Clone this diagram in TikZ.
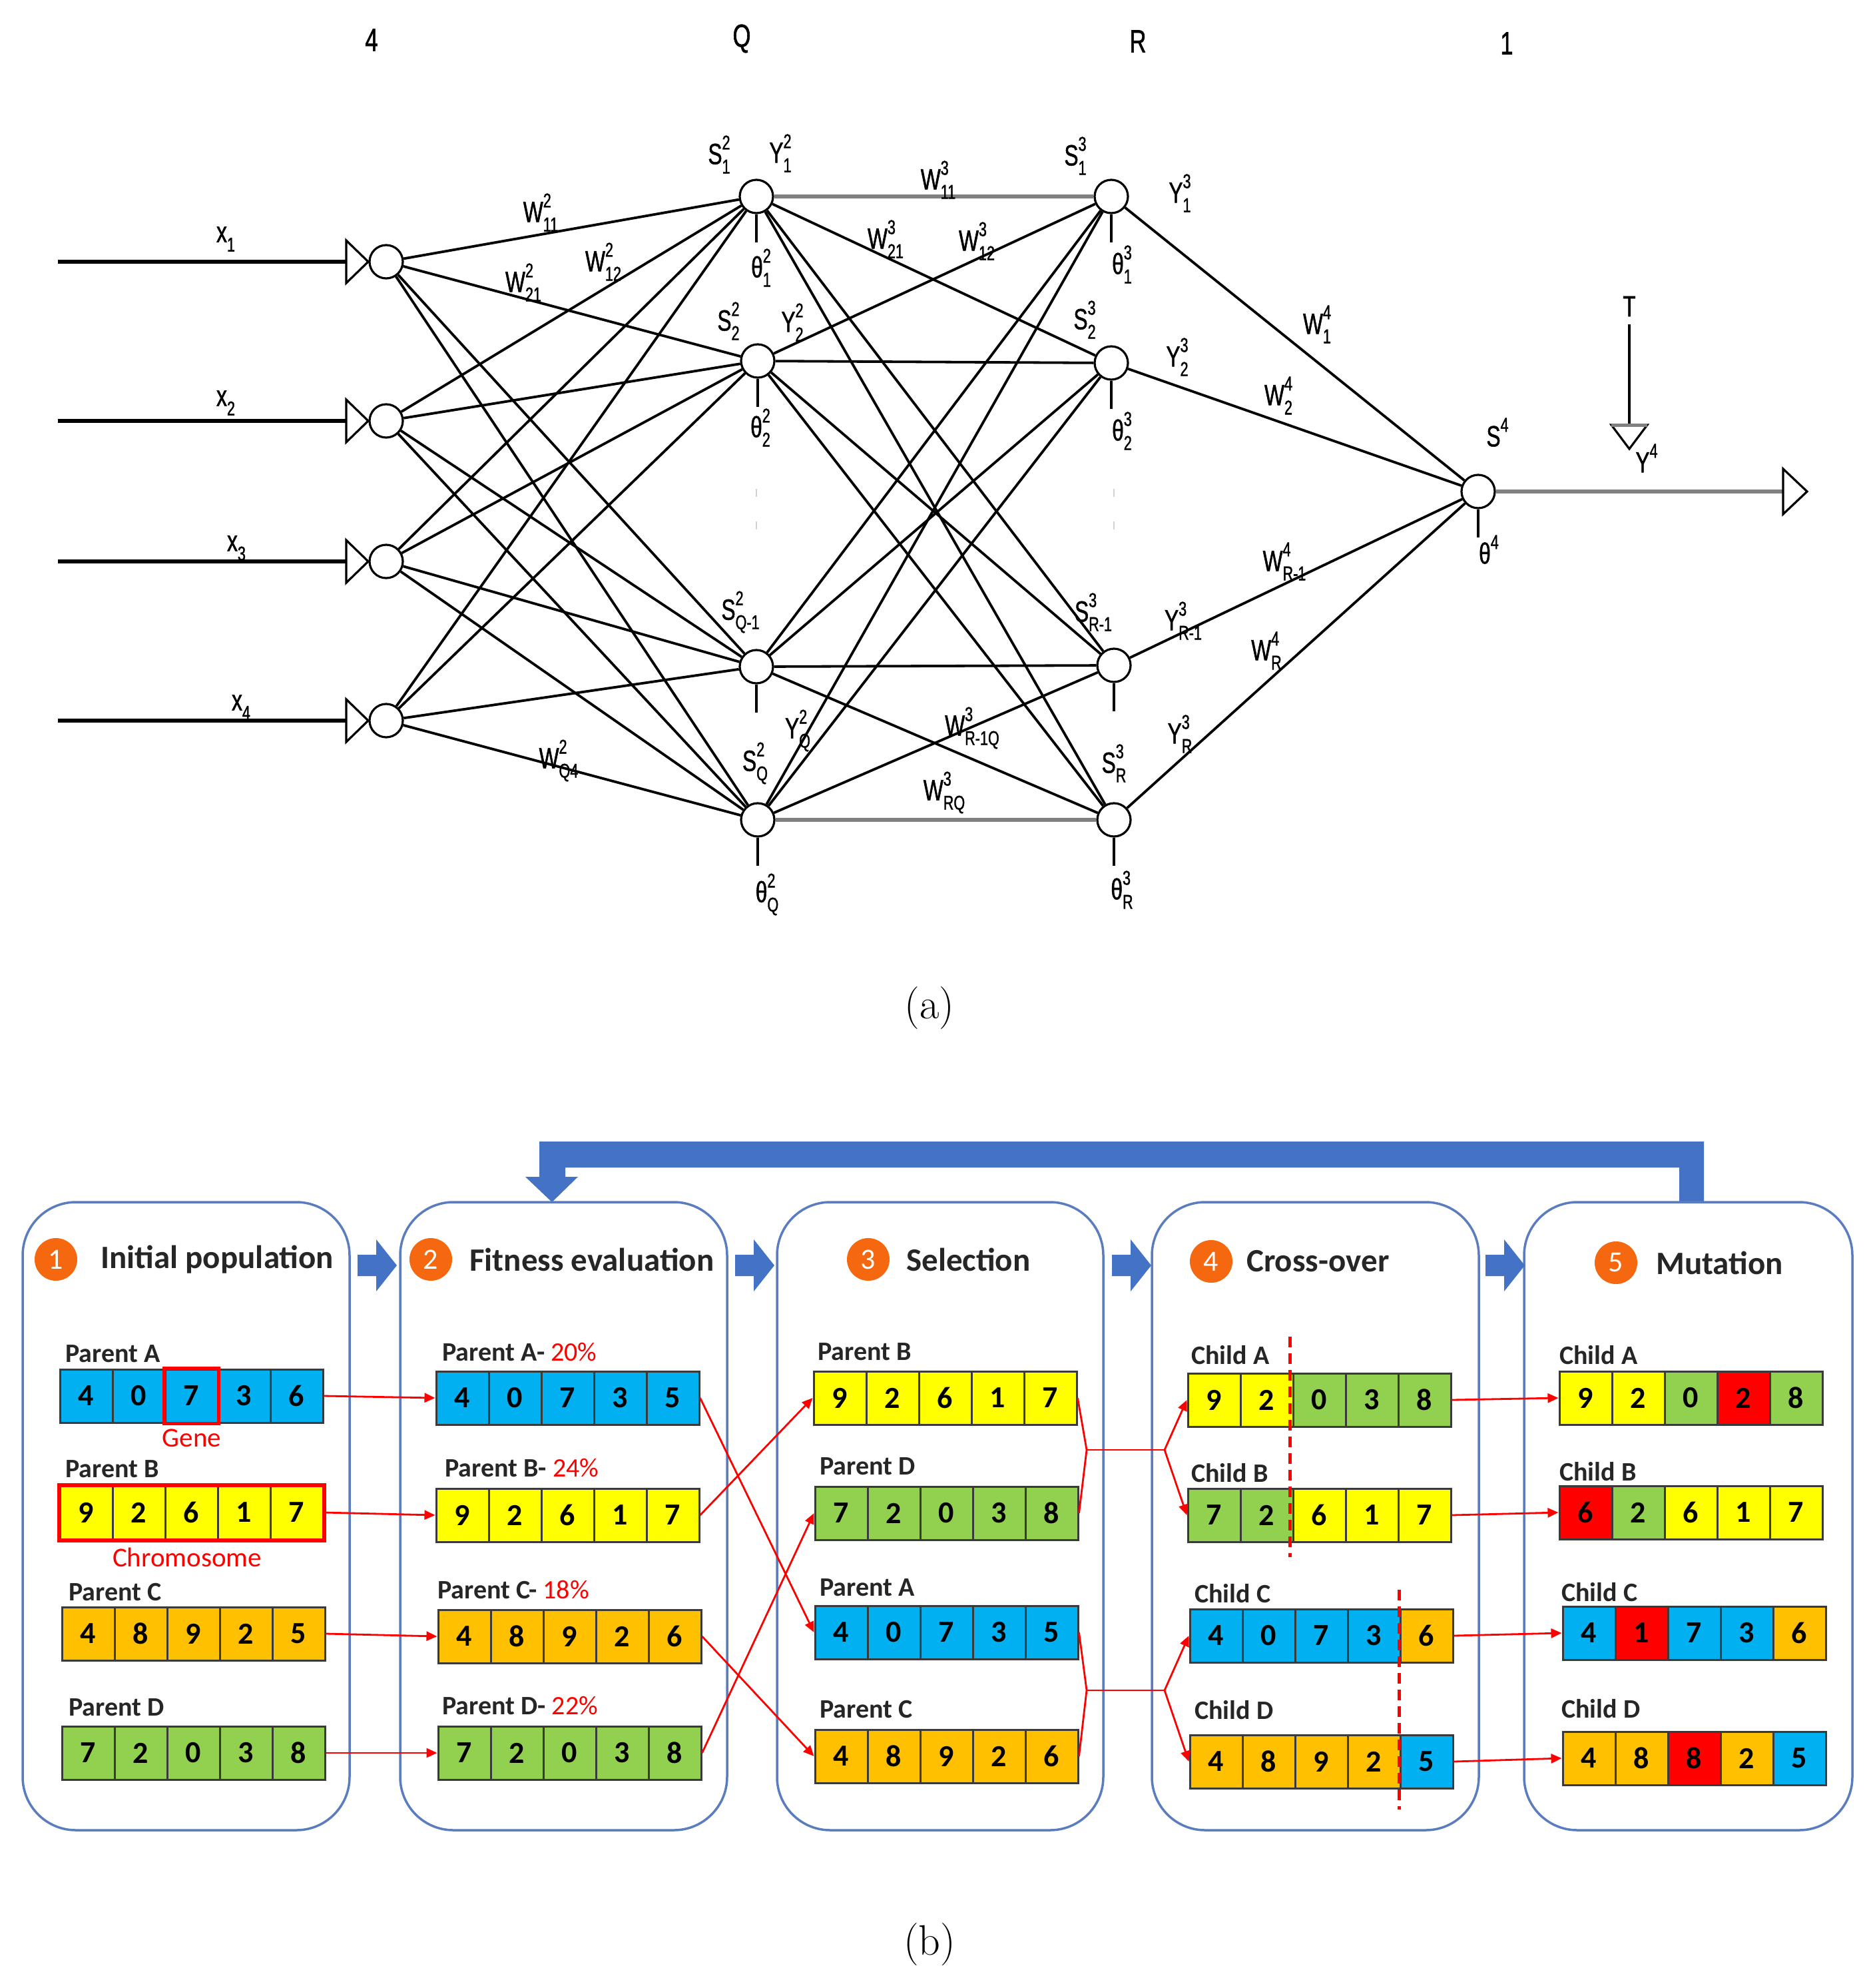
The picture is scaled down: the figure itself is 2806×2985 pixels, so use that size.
\documentclass[tikz,border=0pt]{standalone}
\usepackage{fontspec}
\newfontfamily\nnfont[FakeStretch=0.72,FakeBold=1.2]{Liberation Sans}
\newfontfamily\gafont{Carlito}
\usetikzlibrary{arrows.meta}
\definecolor{cB}{HTML}{00B0F0}
\definecolor{cY}{HTML}{FFFF00}
\definecolor{cO}{HTML}{FFC000}
\definecolor{cG}{HTML}{92D050}
\definecolor{cR}{HTML}{FF0000}
\definecolor{cellline}{HTML}{3A3A3A}
\definecolor{boxblue}{HTML}{5B7DC0}
\definecolor{arrblue}{HTML}{4472C4}
\definecolor{numorg}{HTML}{F5680F}
\definecolor{txtdark}{HTML}{262626}
\newcommand\sx[3]{#1\raisebox{0.5em}{\makebox[0pt][l]{\fontsize{30pt}{30pt}\selectfont #2}}\raisebox{-0.32em}{\fontsize{30pt}{30pt}\selectfont #3}}
\newcommand\chrom[4]{\foreach \c/\d [count=\i] in {#4}{\node[cell, fill=c\c] (#1-\i) at ({#2+(\i-0.5)*79}, #3) {\d};}}
\newcommand\blockarr[1]{\fill[arrblue] (#1,1884) -- ++(28,0) -- ++(0,-23) -- ++(31,39) -- ++(-31,39) -- ++(0,-23) -- ++(-28,0) -- cycle;}
\tikzset{
  neuron/.style={circle, draw, line width=3.2pt, minimum size=50pt, inner sep=0pt, fill=white},
  conn/.style={line width=3.8pt},
  hconn/.style={line width=5.5pt, draw=gray},
  nnlab/.style={font=\nnfont\fontsize{44pt}{46pt}\selectfont, inner sep=0pt},
  collab/.style={font=\nnfont\fontsize{48pt}{50pt}\selectfont, inner sep=0pt},
  cell/.style={draw=cellline, line width=3pt, minimum width=79pt, minimum height=80pt, inner sep=0pt, text=black, font=\gafont\bfseries\fontsize{46pt}{46pt}\selectfont},
  gabox/.style={draw=boxblue, line width=3.5pt, rounded corners=80pt},
  redarrow/.style={draw=red, line width=2.8pt, -{Triangle[length=16pt,width=14pt]}},
  redline/.style={draw=red, line width=2.8pt},
  numcirc/.style={circle, fill=numorg, minimum size=64pt, inner sep=0pt, text=white, font=\gafont\fontsize{44pt}{44pt}\selectfont},
  gtitle/.style={anchor=west, inner sep=0pt, text=txtdark, font=\gafont\bfseries\fontsize{49pt}{50pt}\selectfont},
  plab/.style={anchor=west, inner sep=0pt, text=txtdark, font=\gafont\bfseries\fontsize{40pt}{42pt}\selectfont},
  rlab/.style={inner sep=0pt, text=red, font=\gafont\fontsize{41pt}{42pt}\selectfont},
  cutline/.style={draw=red, line width=5pt, dash pattern=on 16pt off 9pt},
  caplab/.style={inner sep=0pt, font=\fontsize{64pt}{66pt}\selectfont}
}
\begin{document}
\begin{tikzpicture}[x=1pt,y=-1pt]
\useasboundingbox[fill=white] (0,0) rectangle (2806,2985);

% ================= (a) network =================
\node[collab] (c4) at (558,60) {4};
\node[collab] (cQ) at (1114,58) {Q};
\node[collab] (cR) at (1709,62) {R};
\node[collab] (c1) at (2263,65) {1};

\node[neuron] (i1) at (580,393) {};
\node[neuron] (i2) at (580,632) {};
\node[neuron] (i3) at (580,843) {};
\node[neuron] (i4) at (580,1082) {};
\node[neuron] (q1) at (1136,295) {};
\node[neuron] (q2) at (1138,542) {};
\node[neuron] (q3) at (1136,1001) {};
\node[neuron] (q4) at (1138,1231) {};
\node[neuron] (r1) at (1669,295) {};
\node[neuron] (r2) at (1669,545) {};
\node[neuron] (r3) at (1673,999) {};
\node[neuron] (r4) at (1673,1231) {};
\node[neuron] (o) at (2220,738) {};

% input lines and triangles
\foreach \k/\y in {1/393,2/632,3/843,4/1082}{
  \coordinate (s\k) at (87,\y);
  \coordinate (t\k) at (553,\y);
  \draw[line width=5.5pt] (s\k) -- (t\k);
  \draw[line width=3.2pt, fill=white] (520,\y-32) -- (t\k) -- (520,\y+32) -- cycle;
}
\node[nnlab] (lx1) at (339,359) {\sx{x}{}{1}};
\node[nnlab] (lx2) at (339,605) {\sx{x}{}{2}};
\node[nnlab] (lx3) at (355,823) {\sx{x}{}{3}};
\node[nnlab] (lx4) at (362,1062) {\sx{x}{}{4}};

% connections
\foreach \a in {1,...,4}{\foreach \b in {1,...,4}{\draw[conn] (i\a) -- (q\b);}}
\foreach \a/\b in {1/2,1/3,1/4,2/1,2/2,2/3,2/4,3/1,3/2,3/3,3/4,4/1,4/2,4/3}{\draw[conn] (q\a) -- (r\b);}
\draw[hconn] (q1) -- (r1);
\draw[hconn] (q4) -- (r4);
\foreach \a in {1,...,4}{\draw[conn] (r\a) -- (o);}

% bias lines
\foreach \n in {q1,q2,q3,q4,r1,r2,r3,r4,o}{\draw[line width=3.2pt] (\n.south) -- ++(0,42);}

% faint dots
\foreach \xx in {1136,1673}{\draw[gray!35, line width=2.5pt] (\xx,734) -- (\xx,746) (\xx,783) -- (\xx,795);}

% output
\coordinate (otip) at (2714,738);
\draw[line width=6.5pt, draw=gray] (o) -- (otip);
\draw[line width=3.2pt, fill=white] (2678,704) -- (otip) -- (2678,772) -- cycle;
\node[nnlab] (T) at (2447,460) {T};
\coordinate (ttip) at (2447,674);
\draw[line width=3.2pt, shorten <=12pt] (T) -- (ttip);
\draw[line width=3.2pt, fill=white] (2420,638) -- (2474,638) -- (ttip) -- cycle;
\draw[line width=5pt, gray] (2420,638) -- (2474,638);
\node[nnlab] (Y4) at (2467,695) {\sx{Y}{4}{}};

% node labels
\node[nnlab] (S21) at (1080,232) {\sx{S}{2}{1}};
\node[nnlab] (Y21) at (1172,230) {\sx{Y}{2}{1}};
\node[nnlab] (S22) at (1094,482) {\sx{S}{2}{2}};
\node[nnlab] (Y22) at (1190,484) {\sx{Y}{2}{2}};
\node[nnlab] (S2Q1) at (1112,919) {\sx{S}{2}{Q-1}};
\node[nnlab] (S2Q) at (1134,1146) {\sx{S}{2}{Q}};
\node[nnlab] (Y2Q) at (1198,1097) {\sx{Y}{2}{Q}};
\node[nnlab] (S31) at (1615,234) {\sx{S}{3}{1}};
\node[nnlab] (Y31) at (1772,290) {\sx{Y}{3}{1}};
\node[nnlab] (S32) at (1629,480) {\sx{S}{3}{2}};
\node[nnlab] (Y32) at (1768,536) {\sx{Y}{3}{2}};
\node[nnlab] (S3R1) at (1642,919) {\sx{S}{3}{R-1}};
\node[nnlab] (Y3R1) at (1777,932) {\sx{Y}{3}{R-1}};
\node[nnlab] (S3R) at (1673,1146) {\sx{S}{3}{R}};
\node[nnlab] (Y3R) at (1772,1102) {\sx{Y}{3}{R}};
\node[nnlab] (S4) at (2243,656) {\sx{S}{4}{}};

% theta labels
\node[nnlab] (th21) at (1143,402) {\sx{θ}{2}{1}};
\node[nnlab] (th22) at (1142,642) {\sx{θ}{2}{2}};
\node[nnlab] (th2Q) at (1152,1343) {\sx{θ}{2}{Q}};
\node[nnlab] (th31) at (1685,397) {\sx{θ}{3}{1}};
\node[nnlab] (th32) at (1685,647) {\sx{θ}{3}{2}};
\node[nnlab] (th3R) at (1685,1336) {\sx{θ}{3}{R}};
\node[nnlab] (th4) at (2230,832) {\sx{θ}{4}{}};

% weight labels
\node[nnlab] (w211) at (812,319) {\sx{W}{2}{11}};
\node[nnlab] (w212) at (906,393) {\sx{W}{2}{12}};
\node[nnlab] (w221) at (786,424) {\sx{W}{2}{21}};
\node[nnlab] (w2Q4) at (839,1142) {\sx{W}{2}{Q4}};
\node[nnlab] (w311) at (1409,270) {\sx{W}{3}{11}};
\node[nnlab] (w321) at (1330,359) {\sx{W}{3}{21}};
\node[nnlab] (w312) at (1467,362) {\sx{W}{3}{12}};
\node[nnlab] (w3R1Q) at (1460,1093) {\sx{W}{3}{R-1Q}};
\node[nnlab] (w3RQ) at (1418,1190) {\sx{W}{3}{RQ}};
\node[nnlab] (w41) at (1978,487) {\sx{W}{4}{1}};
\node[nnlab] (w42) at (1920,594) {\sx{W}{4}{2}};
\node[nnlab] (w4R1) at (1929,843) {\sx{W}{4}{R-1}};
\node[nnlab] (w4R) at (1902,977) {\sx{W}{4}{R}};

\node[caplab] (capa) at (1396,1514) {(a)};

% ================= (b) genetic algorithm =================
\fill[arrblue] (2559,1805) -- (2559,1714) -- (810,1714) -- (810,1767) -- (789,1767) -- (829,1805) -- (868,1767) -- (849,1767) -- (849,1753) -- (2522,1753) -- (2522,1805) -- cycle;

\draw[gabox] (34,1805) rectangle (525,2748);
\draw[gabox] (601,1805) rectangle (1092,2748);
\draw[gabox] (1167,1805) rectangle (1657,2748);
\draw[gabox] (1730,1805) rectangle (2221,2748);
\draw[gabox] (2289,1805) rectangle (2782,2748);

\blockarr{537}
\blockarr{1104}
\blockarr{1670}
\blockarr{2231}

\node[numcirc] (n1) at (84,1891) {1};
\node[gtitle] (t1) at (151,1891) {Initial population};
\node[numcirc] (n2) at (647,1891) {2};
\node[gtitle] (t2) at (705,1891) {Fitness evaluation};
\node[numcirc] (n3) at (1304,1891) {3};
\node[gtitle] (t3) at (1361,1891) {Selection};
\node[numcirc] (n4) at (1819,1894) {4};
\node[gtitle] (t4) at (1872,1894) {Cross-over};
\node[numcirc] (n5) at (2427,1896) {5};
\node[gtitle] (t5) at (2487,1896) {Mutation};

% box 1
\node[plab] (l1a) at (98,2033) {Parent A};
\chrom{p1a}{90}{2096}{B/4,B/0,B/7,B/3,B/6}
\draw[red, line width=5pt] (p1a-3.north west) rectangle (p1a-3.south east);
\node[rlab] (gene) at (288,2159) {Gene};
\node[plab] (l1b) at (98,2206) {Parent B};
\chrom{p1b}{90}{2271}{Y/9,Y/2,Y/6,Y/1,Y/7}
\draw[red, line width=6pt] (p1b-1.north west) rectangle (p1b-5.south east);
\node[rlab] (chromo) at (281,2338) {Chromosome};
\node[plab] (l1c) at (103,2391) {Parent C};
\chrom{p1c}{93}{2453}{O/4,O/8,O/9,O/2,O/5}
\node[plab] (l1d) at (103,2564) {Parent D};
\chrom{p1d}{93}{2632}{G/7,G/2,G/0,G/3,G/8}

% box 2
\node[plab] (l2a) at (664,2030) {Parent A- \textcolor{red}{\mdseries 20\%}};
\chrom{p2a}{655}{2099}{B/4,B/0,B/7,B/3,B/5}
\node[plab] (l2b) at (668,2204) {Parent B- \textcolor{red}{\mdseries 24\%}};
\chrom{p2b}{655}{2275}{Y/9,Y/2,Y/6,Y/1,Y/7}
\node[plab] (l2c) at (657,2387) {Parent C- \textcolor{red}{\mdseries 18\%}};
\chrom{p2c}{658}{2457}{O/4,O/8,O/9,O/2,O/6}
\node[plab] (l2d) at (664,2561) {Parent D- \textcolor{red}{\mdseries 22\%}};
\chrom{p2d}{658}{2632}{G/7,G/2,G/0,G/3,G/8}

\draw[redarrow] (p1a-5.east) -- (p2a-1.west);
\draw[redarrow] (p1b-5.east) -- (p2b-1.west);
\draw[redarrow] (p1c-5.east) -- (p2c-1.west);
\draw[redarrow] (p1d-5.east) -- (p2d-1.west);

% box 3
\node[plab] (l3b) at (1228,2030) {Parent B};
\chrom{p3b}{1222}{2099}{Y/9,Y/2,Y/6,Y/1,Y/7}
\node[plab] (l3d) at (1231,2202) {Parent D};
\chrom{p3d}{1224}{2272}{G/7,G/2,G/0,G/3,G/8}
\node[plab] (l3a) at (1231,2384) {Parent A};
\chrom{p3a}{1224}{2451}{B/4,B/0,B/7,B/3,B/5}
\node[plab] (l3c) at (1231,2566) {Parent C};
\chrom{p3c}{1224}{2637}{O/4,O/8,O/9,O/2,O/6}

\draw[redarrow] (p2a-5.east) -- (p3a-1.west);
\draw[redarrow] (p2b-5.east) -- (p3b-1.west);
\draw[redarrow] (p2c-5.east) -- (p3c-1.west);
\draw[redarrow] (p2d-5.east) -- (p3d-1.west);

% box 4
\node[plab] (l4a) at (1789,2035) {Child A};
\chrom{c4a}{1784}{2102}{Y/9,Y/2,G/0,G/3,G/8}
\node[plab] (l4b) at (1789,2212) {Child B};
\chrom{c4b}{1784}{2275}{G/7,G/2,Y/6,Y/1,Y/7}
\node[plab] (l4c) at (1794,2393) {Child C};
\chrom{c4c}{1787}{2456}{B/4,B/0,B/7,B/3,O/6}
\node[plab] (l4d) at (1794,2568) {Child D};
\chrom{c4d}{1787}{2645}{O/4,O/8,O/9,O/2,B/5}
\draw[cutline] (1937,2007) -- (1937,2338);
\draw[cutline] (2101,2387) -- (2101,2717);

\coordinate (m1) at (1632,2177);
\coordinate (m2) at (1749,2177);
\coordinate (m3) at (1632,2538);
\coordinate (m4) at (1749,2538);
\draw[redline] (p3b-5.east) -- (m1) -- (p3d-5.east);
\draw[redline] (m1) -- (m2);
\draw[redarrow] (m2) -- (c4a-1.west);
\draw[redarrow] (m2) -- (c4b-1.west);
\draw[redline] (p3a-5.east) -- (m3) -- (p3c-5.east);
\draw[redline] (m3) -- (m4);
\draw[redarrow] (m4) -- (c4c-1.west);
\draw[redarrow] (m4) -- (c4d-1.west);

% box 5
\node[plab] (l5a) at (2342,2035) {Child A};
\chrom{c5a}{2342}{2099}{Y/9,Y/2,G/0,R/2,G/8}
\node[plab] (l5b) at (2342,2210) {Child B};
\chrom{c5b}{2342}{2271}{R/6,G/2,Y/6,Y/1,Y/7}
\node[plab] (l5c) at (2345,2391) {Child C};
\chrom{c5c}{2347}{2452}{B/4,R/1,B/7,B/3,O/6}
\node[plab] (l5d) at (2345,2566) {Child D};
\chrom{c5d}{2347}{2640}{O/4,O/8,R/8,O/2,B/5}

\draw[redarrow] (c4a-5.east) -- (c5a-1.west);
\draw[redarrow] (c4b-5.east) -- (c5b-1.west);
\draw[redarrow] (c4c-5.east) -- (c5c-1.west);
\draw[redarrow] (c4d-5.east) -- (c5d-1.west);

\node[caplab] (capb) at (1396,2919) {(b)};
\end{tikzpicture}
\end{document}
